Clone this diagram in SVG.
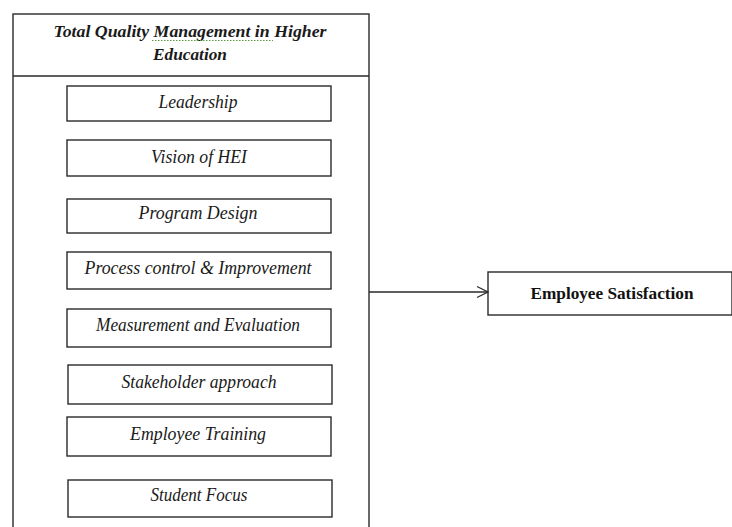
<svg xmlns="http://www.w3.org/2000/svg" width="732" height="527" viewBox="0 0 732 527">
<style>
.box{fill:#fff;stroke:#2a2a2a;stroke-width:1.4}
.it{font-family:"Liberation Serif",serif;font-style:italic;font-size:18px;fill:#1a1a1a;text-anchor:middle}
.title{font-family:"Liberation Serif",serif;font-style:italic;font-weight:bold;font-size:16px;fill:#1a1a1a;text-anchor:middle}
.bold{font-family:"Liberation Serif",serif;font-weight:bold;font-size:17px;fill:#111;text-anchor:middle}
.conn{fill:none;stroke:#2a2a2a;stroke-width:1.3}
</style>
<rect width="732" height="527" fill="#fff"/>
<g id="tqm">
<rect class="box" x="13" y="14" width="356" height="530"/>
<line class="conn" x1="13" y1="76" x2="369" y2="76"/>
<text class="title" x="190" y="37" textLength="273" lengthAdjust="spacingAndGlyphs">Total Quality Management  in Higher</text>
<text class="title" x="190" y="60" textLength="74" lengthAdjust="spacingAndGlyphs">Education</text>
<path d="M152,40.5 L273,40.5" stroke="#5a9a3a" stroke-width="1" stroke-dasharray="1.5,1.5" fill="none"/>
</g>
<g id="leadership"><rect class="box" x="67" y="86" width="264" height="35"/><text class="it" x="198" y="108" textLength="79" lengthAdjust="spacingAndGlyphs">Leadership</text></g>
<g id="vision"><rect class="box" x="67" y="140" width="264" height="36"/><text class="it" x="199" y="163" textLength="96" lengthAdjust="spacingAndGlyphs">Vision of HEI</text></g>
<g id="program"><rect class="box" x="67" y="199" width="264" height="34"/><text class="it" x="198" y="219" textLength="119" lengthAdjust="spacingAndGlyphs">Program Design</text></g>
<g id="process"><rect class="box" x="67" y="252" width="264" height="37"/><text class="it" x="198" y="274" textLength="227" lengthAdjust="spacingAndGlyphs">Process control &amp; Improvement</text></g>
<g id="measurement"><rect class="box" x="67" y="309" width="264" height="38"/><text class="it" x="198" y="331" textLength="204" lengthAdjust="spacingAndGlyphs">Measurement and Evaluation</text></g>
<g id="stakeholder"><rect class="box" x="68" y="365" width="264" height="39"/><text class="it" x="199" y="388" textLength="155" lengthAdjust="spacingAndGlyphs">Stakeholder approach</text></g>
<g id="training"><rect class="box" x="67" y="417" width="264" height="39"/><text class="it" x="198" y="440" textLength="136" lengthAdjust="spacingAndGlyphs">Employee Training</text></g>
<g id="student"><rect class="box" x="68" y="480" width="264" height="37"/><text class="it" x="199" y="501" textLength="97" lengthAdjust="spacingAndGlyphs">Student Focus</text></g>
<g id="satisfaction"><rect class="box" x="488" y="272" width="244" height="43"/><text class="bold" x="612" y="299" textLength="163" lengthAdjust="spacingAndGlyphs">Employee Satisfaction</text></g>
<g id="connectors">
<line class="conn" x1="369" y1="292" x2="488" y2="292"/>
<polyline class="conn" points="477,286.5 488,292 477,297.5"/>
</g>
</svg>
